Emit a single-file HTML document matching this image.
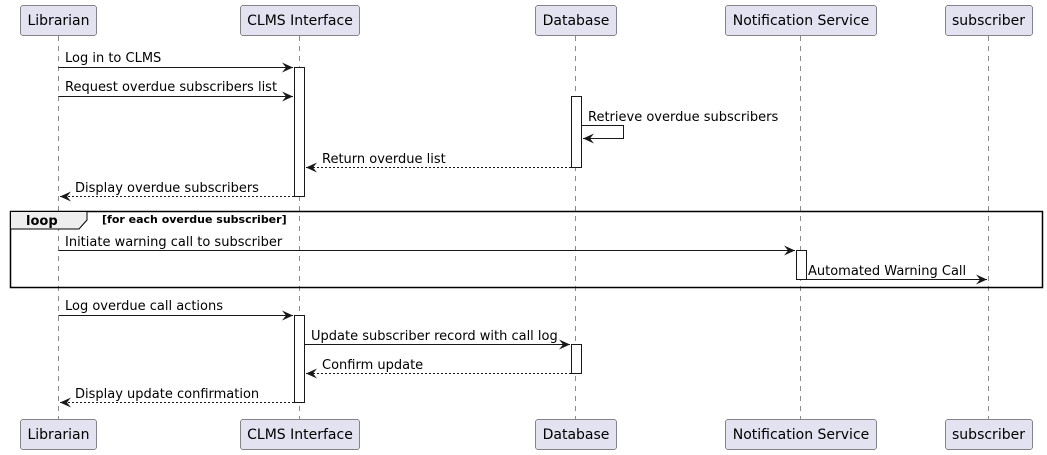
<!DOCTYPE html>
<html><head><style>body{margin:0;background:#fff}svg{display:block}</style></head><body>
<svg width="1047" height="455" xmlns="http://www.w3.org/2000/svg" font-family="DejaVu Sans, Liberation Sans, sans-serif">
<defs>
<marker id="a" markerWidth="12" markerHeight="10" refX="11" refY="5" orient="auto" markerUnits="userSpaceOnUse"><path d="M0,0 L11,5 L0,10 L4,5 Z" fill="#181818"/></marker>
</defs>
<g stroke="#181818" stroke-width="0.5" stroke-dasharray="5,5">
<line x1="58.5" y1="36" x2="58.5" y2="419"/>
<line x1="299.5" y1="36" x2="299.5" y2="419"/>
<line x1="575.5" y1="36" x2="575.5" y2="419"/>
<line x1="800.5" y1="36" x2="800.5" y2="419"/>
<line x1="988.5" y1="36" x2="988.5" y2="419"/>
</g>
<g fill="#E2E2F0" stroke="#181818" stroke-width="0.5">
<rect x="20.5" y="5.5" width="76" height="30" rx="2.5"/>
<rect x="240.5" y="5.5" width="119" height="30" rx="2.5"/>
<rect x="535.5" y="5.5" width="81" height="30" rx="2.5"/>
<rect x="725.5" y="5.5" width="151" height="30" rx="2.5"/>
<rect x="945.5" y="5.5" width="87" height="30" rx="2.5"/>
<rect x="20.5" y="419.5" width="76" height="30" rx="2.5"/>
<rect x="240.5" y="419.5" width="119" height="30" rx="2.5"/>
<rect x="535.5" y="419.5" width="81" height="30" rx="2.5"/>
<rect x="725.5" y="419.5" width="151" height="30" rx="2.5"/>
<rect x="945.5" y="419.5" width="87" height="30" rx="2.5"/>
</g>
<g font-size="14" fill="#000" text-anchor="middle">
<text x="58.5" y="25">Librarian</text><text x="300" y="25">CLMS Interface</text><text x="576" y="25">Database</text><text x="801" y="25">Notification Service</text><text x="988.5" y="25">subscriber</text>
<text x="58.5" y="439">Librarian</text><text x="300" y="439">CLMS Interface</text><text x="576" y="439">Database</text><text x="801" y="439">Notification Service</text><text x="988.5" y="439">subscriber</text>
</g>
<!-- loop frame -->
<rect x="10.5" y="211.5" width="1032" height="76" fill="none" stroke="#000" stroke-width="1.5"/>
<path d="M10.5,211.5 H87 V220 L79,229 H10.5 Z" fill="#EEEEEE" stroke="#000" stroke-width="1"/>
<text x="26" y="225" font-size="13" font-weight="bold">loop</text>
<text x="102" y="223" font-size="11" font-weight="bold">[for each overdue subscriber]</text>
<!-- activations -->
<g fill="#fff" stroke="#181818" stroke-width="1">
<rect x="294.5" y="67.5" width="10" height="129"/>
<rect x="571.5" y="96.5" width="10" height="71"/>
<rect x="796.5" y="250.5" width="10" height="29"/>
<rect x="294.5" y="315.5" width="10" height="87"/>
<rect x="571.5" y="344.5" width="10" height="29"/>
</g>
<g stroke="#181818" stroke-width="1" fill="none">
<line x1="58.5" y1="67.5" x2="293" y2="67.5" marker-end="url(#a)"/>
<line x1="58.5" y1="96.5" x2="293" y2="96.5" marker-end="url(#a)"/>
<polyline points="581.5,125.5 623.5,125.5 623.5,138.5 583,138.5" marker-end="url(#a)"/>
<line x1="571" y1="167.5" x2="306" y2="167.5" stroke-dasharray="2,2" marker-end="url(#a)"/>
<line x1="294" y1="196.5" x2="60" y2="196.5" stroke-dasharray="2,2" marker-end="url(#a)"/>
<line x1="58.5" y1="250.5" x2="795" y2="250.5" marker-end="url(#a)"/>
<line x1="806.5" y1="279.5" x2="987" y2="279.5" marker-end="url(#a)"/>
<line x1="58.5" y1="315.5" x2="293" y2="315.5" marker-end="url(#a)"/>
<line x1="304.5" y1="344.5" x2="570" y2="344.5" marker-end="url(#a)"/>
<line x1="571" y1="373.5" x2="306" y2="373.5" stroke-dasharray="2,2" marker-end="url(#a)"/>
<line x1="294" y1="402.5" x2="60" y2="402.5" stroke-dasharray="2,2" marker-end="url(#a)"/>
</g>
<g font-size="13" fill="#000">
<text x="65" y="62">Log in to CLMS</text>
<text x="65" y="91">Request overdue subscribers list</text>
<text x="588" y="121">Retrieve overdue subscribers</text>
<text x="322" y="163">Return overdue list</text>
<text x="75" y="192">Display overdue subscribers</text>
<text x="65" y="246">Initiate warning call to subscriber</text>
<text x="808" y="275">Automated Warning Call</text>
<text x="65" y="310">Log overdue call actions</text>
<text x="311" y="340">Update subscriber record with call log</text>
<text x="322" y="369">Confirm update</text>
<text x="75" y="398">Display update confirmation</text>
</g>
</svg>
</body></html>
